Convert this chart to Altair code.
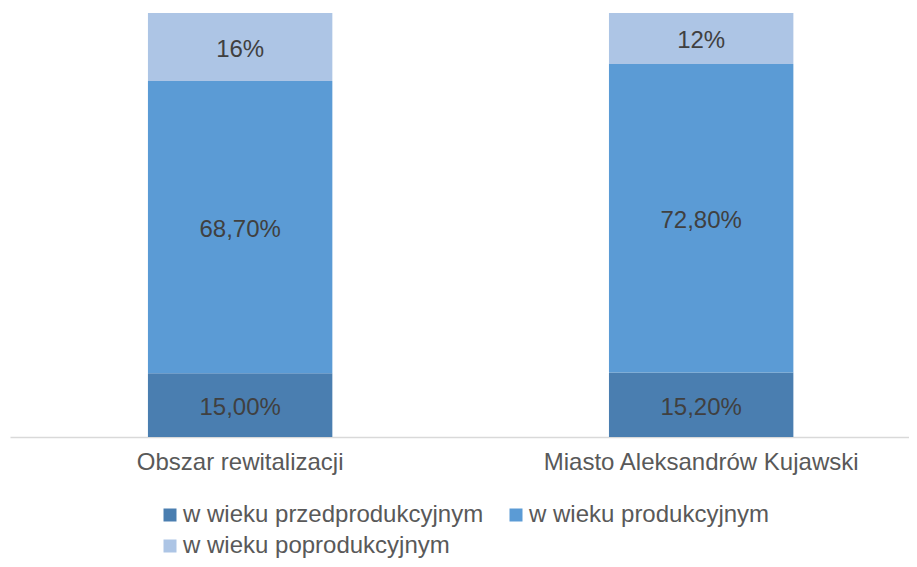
import altair as alt
import pandas as pd

categories = ["Obszar rewitalizacji", "Miasto Aleksandrów Kujawski"]
groups = ["w wieku przedprodukcyjnym", "w wieku produkcyjnym", "w wieku poprodukcyjnym"]
values_obszar = [15.00, 68.70, 16]
values_miasto = [15.20, 72.80, 12]
labels_obszar = ["15,00%", "68,70%", "16%"]
labels_miasto = ["15,20%", "72,80%", "12%"]
colors = ["#4A7EB0", "#5B9BD5", "#ADC5E5"]

rows = []
for cat, vals, labs in [(categories[0], values_obszar, labels_obszar),
                        (categories[1], values_miasto, labels_miasto)]:
    for i, (g, v, l) in enumerate(zip(groups, vals, labs)):
        rows.append({"category": cat, "group": g, "value": v, "label": l, "order": i})
df = pd.DataFrame(rows)

base = alt.Chart(df).transform_stack(
    stack="value", groupby=["category"], as_=["y0", "y1"],
    offset="normalize", sort=[alt.SortField("order", order="ascending")]
).transform_calculate(mid="(datum.y0 + datum.y1) / 2")

xscale = alt.Scale(paddingInner=0.6, paddingOuter=0.275, align=0.544)

xenc = alt.X("category:N", sort=categories, title=None, scale=xscale,
             axis=alt.Axis(labelAngle=0, labelFontSize=24, labelColor="#595959",
                           labelFont="Liberation Sans", tickSize=0, labelPadding=13,
                           labelLimit=600,
                           domainColor="#D9D9D9", domainWidth=1.5))

bars = base.mark_bar().encode(
    x=xenc,
    y=alt.Y("y0:Q", scale=alt.Scale(domain=[0, 1]), axis=None),
    y2="y1:Q",
    color=alt.Color("group:N", sort=groups,
                    scale=alt.Scale(domain=groups, range=colors),
                    legend=alt.Legend(title=None, orient="none", legendX=148, legendY=490,
                                      columns=2, direction="horizontal",
                                      symbolType="square", symbolSize=169,
                                      symbolStrokeWidth=0, labelFontSize=24,
                                      labelFont="Liberation Sans", labelColor="#595959",
                                      labelOffset=1, columnPadding=20, rowPadding=7,
                                      padding=0, labelLimit=500)),
)

text = base.mark_text(fontSize=24, font="Liberation Sans", color="#404040",
                      baseline="middle", dy=3).encode(
    x=alt.X("category:N", sort=categories),
    y=alt.Y("mid:Q"),
    text="label:N",
)

chart = alt.layer(bars, text).properties(
    width=899, height=424,
    autosize=alt.AutoSizeParams(type="none"),
    padding={"left": 2, "top": 5, "right": 0, "bottom": 122},
).configure_view(stroke=None)

chart.save("out.html", embed_options={"renderer": "svg", "actions": False})
